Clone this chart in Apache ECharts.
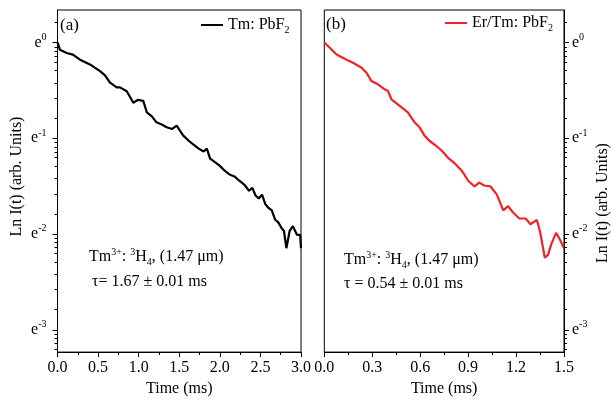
<!DOCTYPE html>
<html><head><meta charset="utf-8">
<script src="https://cdn.jsdelivr.net/npm/echarts@6/dist/echarts.min.js"></script>
<style>html,body{margin:0;padding:0;background:#fff}#c{width:612px;height:402px}</style>
</head><body><div id="c"></div>
<script>
// ---- data ----
const tA = [0, 0.03, 0.113, 0.19, 0.277, 0.40, 0.524, 0.585, 0.647, 0.73, 0.77, 0.853, 0.934, 0.99, 1.057, 1.10, 1.16, 1.22, 1.29, 1.345, 1.41, 1.468, 1.51, 1.55, 1.62, 1.68, 1.74, 1.80, 1.84, 1.88, 1.94, 2.00, 2.06, 2.12, 2.18, 2.24, 2.30, 2.36, 2.40, 2.44, 2.48, 2.52, 2.56, 2.60, 2.64, 2.68, 2.72, 2.76, 2.79, 2.82, 2.86, 2.90, 2.95, 2.99, 3.0];
const lnA = [0, -0.076, -0.11, -0.127, -0.18, -0.23, -0.30, -0.345, -0.42, -0.47, -0.47, -0.51, -0.63, -0.60, -0.61, -0.73, -0.77, -0.835, -0.86, -0.887, -0.905, -0.87, -0.925, -0.974, -1.03, -1.07, -1.11, -1.14, -1.11, -1.215, -1.25, -1.29, -1.34, -1.38, -1.40, -1.445, -1.485, -1.55, -1.52, -1.60, -1.63, -1.59, -1.69, -1.73, -1.755, -1.85, -1.88, -1.94, -1.97, -2.15, -1.97, -1.92, -2.01, -2.01, -2.15];
const tB = [0, 0.036, 0.077, 0.118, 0.15, 0.18, 0.233, 0.264, 0.295, 0.336, 0.378, 0.399, 0.42, 0.472, 0.523, 0.565, 0.596, 0.627, 0.66, 0.70, 0.74, 0.78, 0.82, 0.86, 0.88, 0.90, 0.94, 0.97, 1.00, 1.04, 1.08, 1.12, 1.15, 1.18, 1.22, 1.26, 1.29, 1.30, 1.33, 1.35, 1.38, 1.40, 1.42, 1.45, 1.47, 1.50];
const lnB = [0, -0.058, -0.127, -0.162, -0.19, -0.213, -0.265, -0.317, -0.404, -0.438, -0.49, -0.508, -0.594, -0.663, -0.73, -0.835, -0.887, -0.974, -1.03, -1.08, -1.14, -1.215, -1.27, -1.34, -1.39, -1.445, -1.505, -1.465, -1.495, -1.505, -1.59, -1.755, -1.71, -1.775, -1.84, -1.84, -1.90, -1.89, -1.855, -1.975, -2.25, -2.22, -2.11, -1.99, -2.045, -2.15];
const nameA = 'Tm: PbF2';
const nameB = 'Er/Tm: PbF2';
const yMajor = [0, -1, -2, -3];           // ln I ticks: e^0 ... e^-3
const xMaxA = 3.0, xStepA = 0.5;
const xMaxB = 1.5, xStepB = 0.3;
const yMin = -3.236, yMax = 0.339;

// ---- styling helpers ----
const FF = 'Liberation Serif';
const minorOffsets = [0.045, 0.09, 0.14, 0.2, 0.29, 0.42, 0.58, 0.79];
const yMinor = [];
[1, 0, -1, -2, -3].forEach(n => minorOffsets.forEach(o => {
  const v = n - o; if (v > yMin && v < yMax) yMinor.push(v);
}));
const zip = (a, b) => a.map((v, i) => [v, b[i]]);
const richBase = {
  n: {fontFamily: FF, fontSize: 16, color: '#000', lineHeight: 20},
  sup: {fontFamily: FF, fontSize: 10, color: '#000', lineHeight: 10, verticalAlign: 'top'},
  sub: {fontFamily: FF, fontSize: 10, color: '#000', lineHeight: 10, verticalAlign: 'bottom'}
};
const yLab = v => Math.abs(v - Math.round(v)) < 1e-6 ? '{n|e}{sup|' + Math.round(v) + '}' : '';
const subName = name => '{n|' + name.replace(/2$/, '') + '}{sub|2}';
const black = '#000';

function mainY(gi, pos, nameGap, namePad) {
  return {
    gridIndex: gi, type: 'value', position: pos, min: yMin, max: yMax,
    axisLine: {show: true, onZero: false, lineStyle: {color: black, width: 1}},
    axisTick: {show: false},
    axisLabel: {show: true, formatter: yLab, margin: pos === 'left' ? 11 : 8, rich: richBase,
                showMinLabel: false, showMaxLabel: false},
    splitLine: {show: false},
    name: 'Ln I(t) (arb. Units)', nameLocation: 'middle', nameGap: nameGap,
    nameTextStyle: {fontFamily: FF, fontSize: 16, color: black, padding: namePad}
  };
}
function bottomX(gi, max, step) {
  return {
    gridIndex: gi, type: 'value', position: 'bottom', min: 0, max: max, interval: step,
    axisLine: {show: true, onZero: false, lineStyle: {color: black, width: 1}},
    axisTick: {show: true, length: 5, lineStyle: {color: black}},
    minorTick: {show: true, splitNumber: 2, length: 3, lineStyle: {color: black}},
    axisLabel: {fontFamily: FF, fontSize: 16, color: black, margin: 8, formatter: v => v.toFixed(1)},
    splitLine: {show: false}, minorSplitLine: {show: false},
    name: 'Time (ms)', nameLocation: 'middle', nameGap: 28,
    nameTextStyle: {fontFamily: FF, fontSize: 16, color: black}
  };
}
function annot(left, top, text) {
  return {type: 'text', left: left, top: top, style: {text: text, rich: richBase}};
}
// y-axis tick marks (major length 5, minor 3) drawn through the axis scale
function tickSeries(xi, yi, xAt, dir) {
  const data = yMajor.map(v => [xAt, v, 5]).concat(yMinor.map(v => [xAt, v, 3]));
  return {
    type: 'custom', xAxisIndex: xi, yAxisIndex: yi, data: data, clip: false, silent: true, z: 5,
    renderItem: (params, api) => {
      const p = api.coord([api.value(0), api.value(1)]);
      const y = Math.round(p[1]) + 0.5;
      return {type: 'line', shape: {x1: p[0], y1: y, x2: p[0] + dir * api.value(2), y2: y},
              style: {stroke: black, lineWidth: 1}};
    }
  };
}

const chart = echarts.init(document.getElementById('c'), null, {renderer: 'canvas'});
chart.setOption({
  backgroundColor: '#fff',
  animation: false,
  grid: [
    {left: 57.5, top: 10, width: 243.5, height: 345, show: true, borderColor: black, borderWidth: 1, backgroundColor: 'transparent'},
    {left: 324.3, top: 10, width: 240.7, height: 345, show: true, borderColor: black, borderWidth: 1, backgroundColor: 'transparent'}
  ],
  xAxis: [bottomX(0, xMaxA, xStepA), bottomX(1, xMaxB, xStepB)],
  yAxis: [mainY(0, 'left', 33, [0, 0, 0, 9]), mainY(1, 'right', 31, [0, 44, 0, 0])],
  legend: [
    {data: [{name: nameA, icon: 'rect'}], left: 201, top: 17, padding: 0, itemWidth: 22, itemHeight: 2,
     formatter: subName, textStyle: {rich: richBase}},
    {data: [{name: nameB, icon: 'rect'}], left: 445, top: 15, padding: 0, itemWidth: 22, itemHeight: 2,
     formatter: subName, textStyle: {rich: richBase}}
  ],
  series: [
    {name: nameA, type: 'line', xAxisIndex: 0, yAxisIndex: 0, data: zip(tA, lnA),
     symbol: 'none', smooth: false, lineStyle: {color: '#000', width: 2.2}, itemStyle: {color: '#000'}},
    {name: nameB, type: 'line', xAxisIndex: 1, yAxisIndex: 1, data: zip(tB, lnB),
     symbol: 'none', smooth: false, lineStyle: {color: '#f0222a', width: 2.2}, itemStyle: {color: '#f0222a'}},
    tickSeries(0, 0, 0, -1),
    tickSeries(1, 1, xMaxB, 1)
  ],
  graphic: [
    {type: 'text', left: 60, top: 17, style: {text: '(a)', font: '17px "Liberation Serif"', fill: '#000'}},
    {type: 'text', left: 326, top: 16, style: {text: '(b)', font: '17px "Liberation Serif"', fill: '#000'}},
    annot(89, 247, '{n|Tm}{sup|3+}{n|: }{sup|3}{n|H}{sub|4}{n|, (1.47 \u03bcm)}'),
    annot(92, 274, '{n|\u03c4= 1.67 \u00b1 0.01 ms}'),
    annot(344, 250, '{n|Tm}{sup|3+}{n|: }{sup|3}{n|H}{sub|4}{n|, (1.47 \u03bcm)}'),
    annot(344, 276, '{n|\u03c4 = 0.54 \u00b1 0.01 ms}')
  ]
});
</script></body></html>
